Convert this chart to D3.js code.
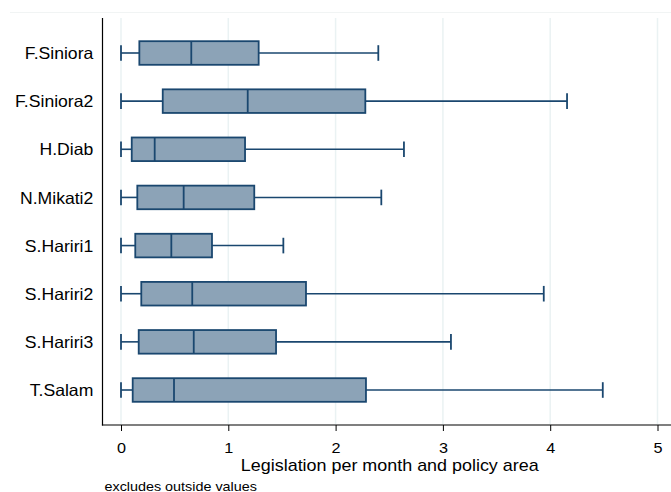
<!DOCTYPE html>
<html>
<head>
<meta charset="utf-8">
<script src="https://cdn.jsdelivr.net/npm/d3@7"></script>
<style>
html,body{margin:0;padding:0;background:#fff;}
svg{display:block;font-family:"Liberation Sans",Arial,sans-serif;}
</style>
</head>
<body>
<svg id="chart" width="671" height="492"></svg>
<script>
const categories = ["F.Siniora","F.Siniora2","H.Diab","N.Mikati2","S.Hariri1","S.Hariri2","S.Hariri3","T.Salam"];
const lowerWhisker = [0,0,0,0,0,0,0,0];
const q1Values     = [0.171,0.389,0.100,0.152,0.133,0.189,0.165,0.109];
const medianValues = [0.655,1.181,0.314,0.584,0.469,0.664,0.678,0.494];
const q3Values     = [1.283,2.277,1.156,1.242,0.848,1.724,1.445,2.283];
const upperWhisker = [2.398,4.157,2.637,2.426,1.513,3.940,3.075,4.490];
const xTicks = [0,1,2,3,4,5];
const xTitle = "Legislation per month and policy area";
const note = "excludes outside values";

const data = categories.map((c,i)=>({cat:c,lo:lowerWhisker[i],q1:q1Values[i],med:medianValues[i],q3:q3Values[i],hi:upperWhisker[i]}));

const svg = d3.select("#chart");
const stroke = "#1a476f", fill = "#8ca3b7", grid = "#eaf2f3";
const plotTop = 18, plotBottom = 425, axisX = 102.5;
const sx = 1.08;

const x = d3.scaleLinear().domain([0,5]).range([121,657.5]);
const y = d3.scalePoint().domain(categories).range([plotTop,plotBottom]).padding(0.727);
const boxH = 23.6, capH = 15.6;

// faint outer border line
svg.append("line").attr("x1",10).attr("x2",671).attr("y1",12.5).attr("y2",12.5)
  .attr("stroke","#f1f4f4").attr("stroke-width",1);

// gridlines
svg.append("g").selectAll("line").data(xTicks).join("line")
  .attr("x1",d=>x(d)).attr("x2",d=>x(d)).attr("y1",plotTop).attr("y2",plotBottom-1)
  .attr("stroke",grid).attr("stroke-width",1.5);

// boxes
const g = svg.append("g").selectAll("g").data(data).join("g")
  .attr("transform",d=>`translate(0,${y(d.cat)})`);
g.append("line").attr("x1",d=>x(d.lo)).attr("x2",d=>x(d.q1)).attr("y1",0).attr("y2",0)
  .attr("stroke",stroke).attr("stroke-width",1.6);
g.append("line").attr("x1",d=>x(d.q3)).attr("x2",d=>x(d.hi)).attr("y1",0).attr("y2",0)
  .attr("stroke",stroke).attr("stroke-width",1.6);
g.append("line").attr("x1",d=>x(d.lo)).attr("x2",d=>x(d.lo)).attr("y1",-capH/2).attr("y2",capH/2)
  .attr("stroke",stroke).attr("stroke-width",1.8);
g.append("line").attr("x1",d=>x(d.hi)).attr("x2",d=>x(d.hi)).attr("y1",-capH/2).attr("y2",capH/2)
  .attr("stroke",stroke).attr("stroke-width",1.8);
g.append("rect").attr("x",d=>x(d.q1)).attr("width",d=>x(d.q3)-x(d.q1))
  .attr("y",-boxH/2).attr("height",boxH)
  .attr("fill",fill).attr("stroke",stroke).attr("stroke-width",1.8);
g.append("line").attr("x1",d=>x(d.med)).attr("x2",d=>x(d.med)).attr("y1",-boxH/2).attr("y2",boxH/2)
  .attr("stroke",stroke).attr("stroke-width",1.8);

// left axis line
svg.append("line").attr("x1",axisX).attr("x2",axisX).attr("y1",plotTop).attr("y2",plotBottom+0.5)
  .attr("stroke","#000").attr("stroke-width",1.2);

// category labels
svg.append("g").selectAll("text").data(categories).join("text")
  .attr("transform",d=>`translate(93.3,${y(d)+6.2}) scale(${sx},1)`)
  .attr("text-anchor","end").attr("font-size",16.3).attr("fill","#000").text(d=>d);

// bottom axis
const xAxis = d3.axisBottom(x).tickValues(xTicks).tickFormat(d3.format("d")).tickSize(6).tickPadding(11.8).tickSizeOuter(0);
const ax = svg.append("g").attr("transform",`translate(0,${plotBottom})`).call(xAxis);
ax.select(".domain").remove();
ax.selectAll(".tick line").attr("stroke","#000").attr("stroke-width",1);
ax.selectAll(".tick text").attr("font-size",15).attr("font-family","'Liberation Sans',Arial,sans-serif")
  .attr("fill","#000").attr("transform",`scale(${sx},1)`);
svg.append("line").attr("x1",axisX-0.6).attr("x2",671).attr("y1",plotBottom).attr("y2",plotBottom)
  .attr("stroke","#000").attr("stroke-width",1.2);

// axis title
svg.append("text").attr("transform",`translate(${(x(0)+x(5))/2+0.5},470.5) scale(${sx},1)`)
  .attr("text-anchor","middle").attr("font-size",16.6).attr("fill","#000").text(xTitle);

// note
svg.append("text").attr("transform",`translate(104.5,490.5) scale(${sx},1)`)
  .attr("font-size",13.3).attr("fill","#000").text(note);
</script>
</body>
</html>
